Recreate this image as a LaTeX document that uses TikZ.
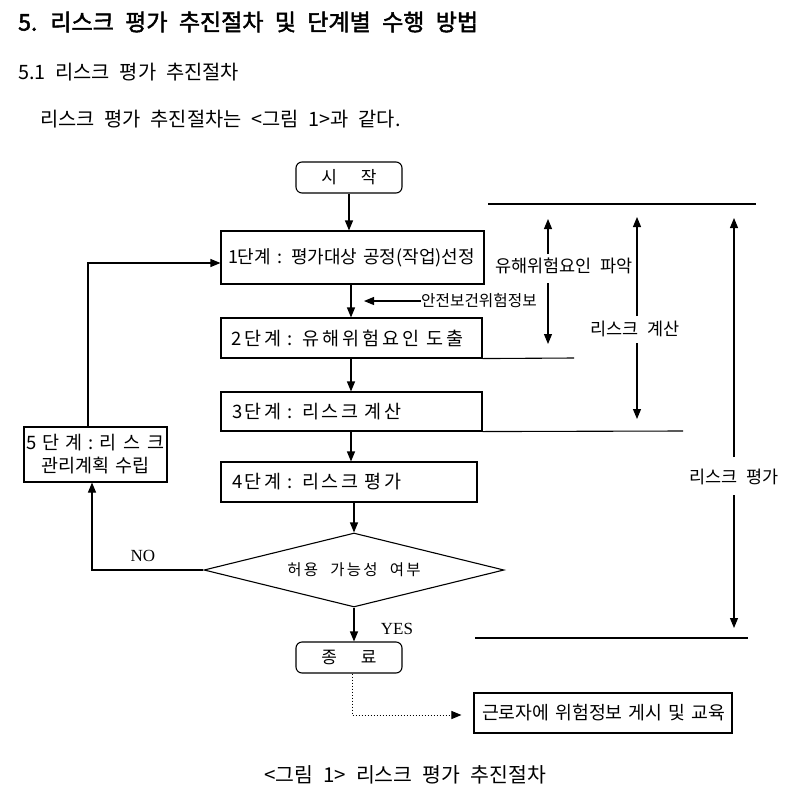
\documentclass[tikz,border=0pt]{standalone}
\usepackage{fontspec}
\setmainfont{Noto Sans CJK KR}[WordSpace=2.2]
\newfontfamily\krspread{Noto Sans CJK KR}[WordSpace=2.2,LetterSpace=14]
\newfontfamily\krspreadb{Noto Sans CJK KR}[WordSpace=2.2,LetterSpace=17]
\newfontfamily\krbold{Noto Sans CJK KR}[WordSpace=2.2,FakeBold=2]
\newfontfamily\latserif{Liberation Serif}
\usetikzlibrary{arrows.meta,shapes.geometric}
\tikzset{
  frame/.style={draw,line width=1.1pt,rectangle,inner ysep=0pt,align=left},
  term/.style={draw,line width=1.1pt,rectangle,rounded corners=6pt,minimum width=106pt,minimum height=31pt,inner sep=0pt,font=\fontsize{17}{19}\selectfont},
  arr/.style={line width=1.1pt,-{Triangle[length=10pt,width=8pt]}},
  plain/.style={line width=1.1pt},
  lab/.style={inner sep=0pt,font=\fontsize{17.5}{20}\selectfont},
  plaintext/.style={inner sep=0pt,anchor=west},
}
\begin{document}
\begin{tikzpicture}[x=1pt,y=-1pt]
\useasboundingbox[fill=white] (0,0) rectangle (797,807);
% header texts
\node[plaintext,font=\krbold\fontsize{23}{26}\selectfont] (title) at (18,22) {5. 리스크 평가 추진절차 및 단계별 수행 방법};
\node[plaintext,font=\fontsize{19.8}{22}\selectfont] (sub) at (18,72) {5.1 리스크 평가 추진절차};
\node[plaintext,font=\fontsize{19.8}{22}\selectfont] (intro) at (40,119) {리스크 평가 추진절차는 <그림 1>과 같다.};
% flow nodes
\node[term] (start) at (349,177.5) {시\hspace{24pt}작};
\node[frame,minimum height=53pt,inner xsep=7pt,text width=249pt,font=\fontsize{18}{21}\selectfont] (s1) at (352.5,257.5) {\mbox{1단계 : 평가대상 공정(작업)선정}};
\node[frame,minimum height=40pt,inner xsep=10pt,text width=241pt,font=\krspreadb\fontsize{18.5}{21}\selectfont] (s2) at (351.5,338) {\mbox{2단계 : 유해위험요인 도출}};
\node[frame,minimum height=39pt,inner xsep=11pt,text width=239pt,font=\krspread\fontsize{18.5}{21}\selectfont] (s3) at (351.5,411.5) {\mbox{3단계 : 리스크 계산}};
\node[frame,minimum height=40pt,inner xsep=11pt,text width=234pt,font=\krspread\fontsize{18.5}{21}\selectfont] (s4) at (349,482) {\mbox{4단계 : 리스크 평가}};
\node[draw,line width=1.1pt,diamond,minimum width=300pt,minimum height=74pt,inner sep=0pt,aspect=4,font=\krspread\fontsize{15.5}{18}\selectfont] (dec) at (354,570) {허용 가능성 여부};
\node[term] (stop) at (349,657.5) {종\hspace{24pt}료};
\node[frame,minimum height=55pt,inner xsep=1pt,text width=141pt,align=center,font=\fontsize{18.5}{23}\selectfont] (s5) at (95.5,454.5) {5\hspace{6pt}단\hspace{6pt}계\hspace{6pt}:\hspace{6pt}리\hspace{7pt}스\hspace{7pt}크\\관리계획 수립};
\node[frame,minimum height=40pt,inner xsep=8pt,text width=242pt,font=\fontsize{18.3}{21}\selectfont] (edu) at (603,713) {\mbox{근로자에 위험정보 게시 및 교육}};
\node[plaintext,font=\fontsize{15.7}{18}\selectfont] (info) at (421,301) {안전보건위험정보};
\coordinate (infoend) at (364,301);
% flow connectors
\draw[arr] (start.south) -- (start.south |- s1.north);
\draw[arr] (s1.south -| 351,0) -- (s2.north -| 351,0);
\draw[arr] (info.west) -- (infoend);
\draw[arr] (s2.south -| 351,0) -- (s3.north -| 351,0);
\draw[arr] (s3.south -| 351,0) -- (s4.north -| 351,0);
\draw[arr] (s4.south -| 354,0) -- (dec.north);
\draw[arr] (dec.south) -- (dec.south |- stop.north);
\draw[arr] (dec.west) -| ([xshift=-3.5pt]s5.south);
\draw[arr] ([xshift=-7.5pt]s5.north) |- ([yshift=-5.5pt]s1.west);
\draw[line width=1pt,dotted,-{Triangle[length=10pt,width=8pt]}] ([xshift=3pt]stop.south) |- ([yshift=-2pt,xshift=-12pt]edu.west);
\node[inner sep=0pt,font=\latserif\fontsize{17}{19}\selectfont] (no) at (143,556) {NO};
\node[inner sep=0pt,font=\latserif\fontsize{17}{19}\selectfont] (yes) at (397,629) {YES};
% right side scale
\coordinate (h1a) at (488,204); \coordinate (h1b) at (756,204);
\draw[plain] (h1a) -- (h1b);
\coordinate (h2b) at (574,358);
\draw[plain] (s2.south east) -- (h2b);
\coordinate (h3b) at (683,431);
\draw[plain] (s3.south east) -- (h3b);
\coordinate (h4a) at (475,638); \coordinate (h4b) at (748,638);
\draw[plain] (h4a) -- (h4b);
\node[lab] (l1) at (564,266) {유해위험요인 파악};
\coordinate (a1t) at (548,219); \coordinate (a1b) at (548,344);
\draw[arr] (a1t |- 0,254) -- (a1t);
\draw[arr] (a1b |- 0,283) -- (a1b);
\node[lab] (l2) at (635,329) {리스크 계산};
\coordinate (a2t) at (637,217); \coordinate (a2b) at (637,419);
\draw[arr] (a2t |- 0,316) -- (a2t);
\draw[arr] (a2b |- 0,343) -- (a2b);
\node[lab] (l3) at (734,477) {리스크 평가};
\coordinate (a3t) at (734,218); \coordinate (a3b) at (734,628);
\draw[arr] (a3t |- 0,457) -- (a3t);
\draw[arr] (a3b |- 0,495) -- (a3b);
% caption
\node[inner sep=0pt,font=\fontsize{20.5}{23}\selectfont] (cap) at (405,775) {<그림 1> 리스크 평가 추진절차};
\end{tikzpicture}
\end{document}
